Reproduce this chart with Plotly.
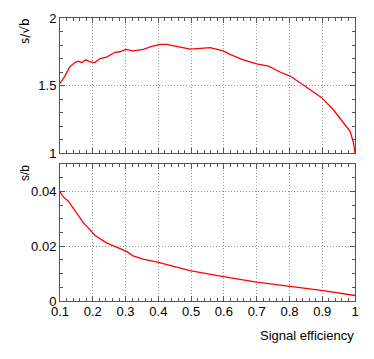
import plotly.graph_objects as go

# signal efficiency vs significance
eff_top = [0.100, 0.115, 0.130, 0.146, 0.156, 0.166, 0.179, 0.192, 0.207, 0.222,
           0.242, 0.268, 0.283, 0.301, 0.322, 0.354, 0.380, 0.405, 0.425, 0.456,
           0.497, 0.558, 0.598, 0.619, 0.659, 0.700, 0.736, 0.771, 0.802, 0.847,
           0.898, 0.934, 0.964, 0.985, 0.995, 1.000]
s_sqrtb = [1.516, 1.57, 1.64, 1.67, 1.68, 1.67, 1.69, 1.675, 1.67, 1.70,
           1.71, 1.746, 1.75, 1.768, 1.756, 1.768, 1.79, 1.805, 1.805, 1.788,
           1.77, 1.78, 1.756, 1.73, 1.69, 1.66, 1.644, 1.60, 1.57, 1.496,
           1.41, 1.32, 1.23, 1.16, 1.08, 1.0]

eff_bot = [0.100, 0.110, 0.125, 0.146, 0.171, 0.186, 0.207, 0.242, 0.268, 0.303,
           0.323, 0.354, 0.400, 0.446, 0.497, 0.598, 0.700, 0.802, 0.903, 1.000]
s_b = [0.0398, 0.038, 0.0365, 0.0328, 0.0286, 0.0267, 0.0239, 0.0212, 0.020, 0.0181,
       0.0165, 0.0153, 0.0141, 0.0126, 0.0111, 0.0089, 0.0069, 0.0053, 0.0038, 0.0020]

# page has 8px body margin, so work in page pixels and shift
OFF = 8
W, H = 374 - 2 * OFF, 359 - 2 * OFF


def px(x):
    return (x - OFF) / W


def py(y):
    return (H - (y - OFF)) / H


fig = go.Figure()
fig.add_trace(go.Scatter(x=eff_top, y=s_sqrtb, mode="lines",
                         line=dict(color="#ff0000", width=1.3), xaxis="x", yaxis="y"))
fig.add_trace(go.Scatter(x=eff_bot, y=s_b, mode="lines",
                         line=dict(color="#ff0000", width=1.3), xaxis="x2", yaxis="y2"))

axstyle = dict(showline=True, linecolor="#555", linewidth=1, mirror="allticks",
               ticks="inside", ticklen=5, tickcolor="#555", automargin=False,
               showgrid=True, gridcolor="#999", griddash="1px,2px", gridwidth=1,
               zeroline=False, tickfont=dict(size=13, color="black"))

xstyle = dict(axstyle, range=[0.1, 1], tick0=0.1, dtick=0.1,
              minor=dict(dtick=0.02, ticklen=3, ticks="inside", tickcolor="#555", showgrid=False))

fig.update_layout(
    width=W, height=H,
    margin=dict(l=0, r=0, t=0, b=0),
    paper_bgcolor="white", plot_bgcolor="white",
    showlegend=False,
    font=dict(family="Liberation Sans, Arial", size=13, color="black"),
    xaxis=dict(xstyle, domain=[px(60), px(355)], anchor="y", showticklabels=False),
    yaxis=dict(axstyle, domain=[py(153), py(18)], range=[1, 2],
               tickvals=[1, 1.5, 2], ticktext=["1", "1.5", "2"], anchor="x",
               minor=dict(dtick=0.1, ticklen=3, ticks="inside", tickcolor="#555", showgrid=False)),
    xaxis2=dict(xstyle, domain=[px(60), px(355)], anchor="y2", ticklabelstandoff=-2),
    yaxis2=dict(axstyle, domain=[py(301), py(164)], range=[0, 0.05],
                tickvals=[0, 0.02, 0.04], ticktext=["0", "0.02", "0.04"], anchor="x2",
                minor=dict(dtick=0.005, ticklen=3, ticks="inside", tickcolor="#555", showgrid=False)),
)

fig.add_annotation(text="s/√b", textangle=-90, x=px(25), y=py(16),
                   xref="paper", yref="paper", xanchor="center", yanchor="top",
                   showarrow=False, font=dict(size=12, family="DejaVu Sans"))
fig.add_annotation(text="s/b", textangle=-90, x=px(25), y=py(163),
                   xref="paper", yref="paper", xanchor="center", yanchor="top",
                   showarrow=False, font=dict(size=12))
fig.add_annotation(text="Signal efficiency", x=px(356), y=py(335),
                   xref="paper", yref="paper", xanchor="right", yanchor="middle",
                   showarrow=False, font=dict(size=13))

fig.write_html("out.html")
